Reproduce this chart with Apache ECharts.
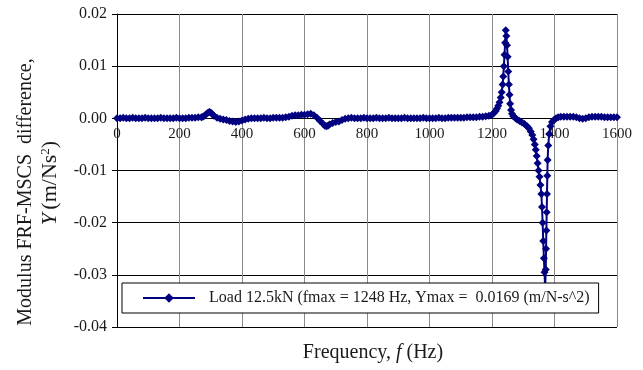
<!DOCTYPE html>
<html>
<head>
<meta charset="utf-8">
<script src="https://cdn.jsdelivr.net/npm/echarts@6/dist/echarts.min.js"></script>
<style>
    html, body { margin: 0; padding: 0; background: #fff; }
    #chart { width: 643px; height: 370px; }
</style>
</head>
<body>
<div id="chart"></div>
<script>
// frequency (Hz) and modulus FRF-MSCS difference (m/Ns^2)
var freqHz = [
    0, 10, 20, 30, 40, 50, 60, 70, 80, 90,
    100, 110, 120, 130, 140, 150, 160, 170, 180, 190,
    200, 210, 220, 230, 240, 250, 260, 270, 275, 280,
    285, 290, 295, 300, 305, 310, 320, 330, 340, 350,
    360, 370, 380, 390, 400, 410, 420, 430, 440, 450,
    460, 470, 480, 490, 500, 510, 520, 530, 540, 550,
    560, 570, 580, 590, 600, 610, 620, 630, 640, 650,
    660, 665, 670, 675, 680, 690, 700, 710, 720, 730,
    740, 750, 760, 770, 780, 790, 800, 810, 820, 830,
    840, 850, 860, 870, 880, 890, 900, 910, 920, 930,
    940, 950, 960, 970, 980, 990, 1000, 1010, 1020, 1030,
    1040, 1050, 1060, 1070, 1080, 1090, 1100, 1110, 1120, 1130,
    1140, 1150, 1160, 1170, 1180, 1190, 1200, 1206, 1212, 1216,
    1220, 1224, 1228, 1231, 1234, 1236, 1238, 1240, 1242, 1244,
    1246, 1248, 1250, 1252, 1254, 1256, 1258, 1261, 1264, 1268,
    1274, 1280, 1288, 1296, 1304, 1312, 1318, 1324, 1329, 1333,
    1337, 1340, 1343, 1346, 1349, 1352, 1355, 1358, 1360, 1362,
    1364, 1366, 1368, 1370, 1372, 1373, 1374, 1375, 1376, 1377,
    1378, 1380, 1383, 1387, 1392, 1398, 1405, 1412, 1420, 1430,
    1440, 1450, 1460, 1470, 1480, 1490, 1500, 1510, 1520, 1530,
    1540, 1550, 1560, 1570, 1580, 1590, 1600
];
var modDiff = [
    0.0000, 0.0000, 0.0001, 0.0000, 0.0000, 0.0001, 0.0000, 0.0000, 0.0000, 0.0001,
    0.0000, 0.0000, 0.0000, 0.0000, 0.0001, 0.0000, 0.0000, 0.0000, 0.0000, 0.0001,
    0.0000, 0.0000, 0.0000, 0.0001, 0.0001, 0.0001, 0.0002, 0.0002, 0.0003, 0.0005,
    0.0008, 0.0010, 0.0012, 0.0011, 0.0008, 0.0005, 0.0001, -0.0001, -0.0002, -0.0003,
    -0.0005, -0.0006, -0.0007, -0.0006, -0.0004, -0.0002, -0.0001, 0.0000, 0.0000, 0.0000,
    0.0000, 0.0001, 0.0000, 0.0000, 0.0001, 0.0001, 0.0001, 0.0001, 0.0002, 0.0003,
    0.0005, 0.0006, 0.0006, 0.0007, 0.0007, 0.0008, 0.0009, 0.0006, 0.0001, -0.0005,
    -0.0011, -0.0014, -0.0015, -0.0014, -0.0012, -0.0009, -0.0007, -0.0006, -0.0003, -0.0001,
    0.0000, 0.0001, 0.0000, 0.0000, 0.0000, 0.0001, 0.0000, 0.0000, 0.0000, 0.0001,
    0.0000, 0.0000, 0.0000, 0.0001, 0.0000, 0.0000, 0.0000, 0.0000, 0.0001, 0.0000,
    0.0000, 0.0000, 0.0000, 0.0000, 0.0001, 0.0000, 0.0000, 0.0000, 0.0000, 0.0001,
    0.0000, 0.0000, 0.0001, 0.0001, 0.0001, 0.0001, 0.0001, 0.0001, 0.0002, 0.0002,
    0.0002, 0.0002, 0.0003, 0.0003, 0.0004, 0.0005, 0.0007, 0.0010, 0.0014, 0.0019,
    0.0024, 0.0031, 0.0040, 0.0050, 0.0065, 0.0080, 0.0100, 0.0122, 0.0145, 0.0169,
    0.0158, 0.0140, 0.0118, 0.0090, 0.0065, 0.0045, 0.0028, 0.0016, 0.0009, 0.0004,
    0.0001, -0.0002, -0.0005, -0.0008, -0.0011, -0.0015, -0.0019, -0.0025, -0.0032, -0.0040,
    -0.0050, -0.0060, -0.0072, -0.0086, -0.0100, -0.0112, -0.0128, -0.0145, -0.0170, -0.0200,
    -0.0235, -0.0268, -0.0295, -0.0326, -0.0290, -0.0250, -0.0215, -0.0180, -0.0145, -0.0110,
    -0.0080, -0.0052, -0.0030, -0.0015, -0.0007, -0.0003, 0.0000, 0.0002, 0.0003, 0.0003,
    0.0003, 0.0003, 0.0003, 0.0002, 0.0000, -0.0001, 0.0000, 0.0002, 0.0003, 0.0003,
    0.0003, 0.0003, 0.0002, 0.0002, 0.0002, 0.0002, 0.0002
];
var xTicks = [0, 1600, 200];      // min, max, step
var yTicks = [-0.04, 0.02, 0.01];
var seriesName = 'Load 12.5kN (fmax = 1248 Hz, Ymax =  0.0169 (m/N-s^2)';

var serif = '"Liberation Serif", "Times New Roman", serif';
var ink = '#1a1a1a';
var navy = '#000080';

var gridBox = { left: 117, right: 26, top: 14, bottom: 43 };
// x axis labels sit on the zero line, so shift the bottom axis up to y = 0
var plotH = 370 - gridBox.top - gridBox.bottom;
var zeroShift = -plotH * (0 - yTicks[0]) / (yTicks[1] - yTicks[0]);

var points = [];
for (var i = 0; i < freqHz.length; i++) {
    points.push([freqHz[i], modDiff[i]]);
}

var chart = echarts.init(document.getElementById('chart'));
chart.setOption({
    animation: false,
    backgroundColor: '#fff',
    grid: gridBox,
    legend: {
        left: 122,
        top: 283,
        padding: [7, 9, 7, 20],
        backgroundColor: '#fff',
        borderColor: '#000',
        borderWidth: 1,
        borderRadius: 0,
        itemWidth: 52,
        itemHeight: 12,
        textStyle: { fontFamily: serif, fontSize: 16, color: ink, padding: [0, 0, 0, 9] },
        data: [seriesName]
    },
    xAxis: {
        type: 'value',
        position: 'bottom',
        offset: zeroShift,
        min: xTicks[0],
        max: xTicks[1],
        interval: xTicks[2],
        axisLine: { show: true, onZero: false, lineStyle: { color: '#000', width: 1 } },
        axisTick: { show: false },
        axisLabel: {
            fontFamily: serif, fontSize: 15, color: ink, margin: 8,
            formatter: function (v) { return String(v); }
        },
        splitLine: { show: true, lineStyle: { color: '#8a8a8a', width: 1 } }
    },
    yAxis: {
        type: 'value',
        min: yTicks[0],
        max: yTicks[1],
        interval: yTicks[2],
        axisLine: { show: true, onZero: false, lineStyle: { color: '#000', width: 1 } },
        axisTick: { show: true, inside: false, length: 5, lineStyle: { color: '#000' } },
        axisLabel: {
            fontFamily: serif, fontSize: 16, color: ink, margin: 10,
            formatter: function (v) { return v.toFixed(2); }
        },
        splitLine: { show: true, lineStyle: { color: '#000', width: 1 } }
    },
    graphic: [{
        type: 'text',
        x: 26,
        y: 192,
        rotation: Math.PI / 2,
        style: {
            text: 'Modulus FRF-MSCS  difference,',
            font: '20px ' + serif,
            fill: ink,
            align: 'center',
            verticalAlign: 'middle'
        }
    }, {
        type: 'text',
        x: 50,
        y: 183,
        rotation: Math.PI / 2,
        style: {
            text: '{i|Y} {a|(m/Ns}{s|2}{a|)}',
            align: 'center',
            verticalAlign: 'middle',
            rich: {
                a: { fontFamily: serif, fontSize: 22, fill: ink },
                i: { fontFamily: serif, fontSize: 22, fill: ink, fontStyle: 'italic' },
                s: { fontFamily: serif, fontSize: 13, fill: ink, verticalAlign: 'top', padding: [0, 0, 8, 0] }
            }
        }
    }, {
        type: 'text',
        x: 373,
        y: 353,
        style: {
            text: '{a|Frequency, }{i|f}{a| (Hz)}',
            align: 'center',
            verticalAlign: 'middle',
            rich: {
                a: { fontFamily: serif, fontSize: 20, fill: ink },
                i: { fontFamily: serif, fontSize: 20, fill: ink, fontStyle: 'italic' }
            }
        }
    }],
    series: [{
        name: seriesName,
        type: 'line',
        data: points,
        symbol: 'diamond',
        symbolSize: 8,
        showAllSymbol: true,
        lineStyle: { color: navy, width: 2 },
        itemStyle: { color: navy },
        z: 3
    }]
});
</script>
</body>
</html>
